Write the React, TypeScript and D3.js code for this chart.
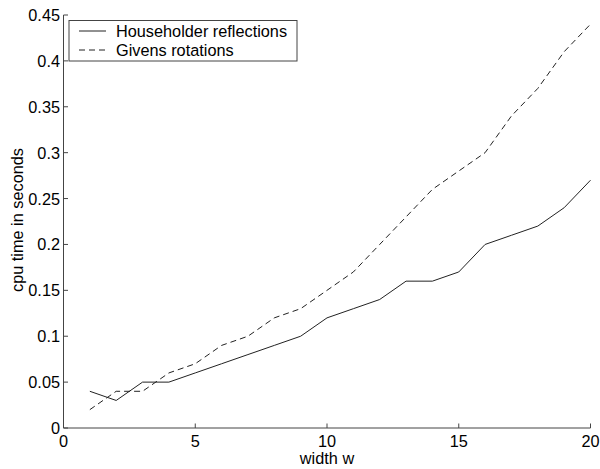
import React from "react";
import * as d3 from "d3";

const widths = [1, 2, 3, 4, 5, 6, 7, 8, 9, 10, 11, 12, 13, 14, 15, 16, 17, 18, 19, 20];
const householder = [0.04, 0.03, 0.05, 0.05, 0.06, 0.07, 0.08, 0.09, 0.10, 0.12, 0.13, 0.14, 0.16, 0.16, 0.17, 0.20, 0.21, 0.22, 0.24, 0.27];
const givens = [0.02, 0.04, 0.04, 0.06, 0.07, 0.09, 0.10, 0.12, 0.13, 0.15, 0.17, 0.20, 0.23, 0.26, 0.28, 0.30, 0.34, 0.37, 0.41, 0.44];
const xTicks = [0, 5, 10, 15, 20];
const yTicks = [0, 0.05, 0.1, 0.15, 0.2, 0.25, 0.3, 0.35, 0.4, 0.45];
const seriesNames = ["Householder reflections", "Givens rotations"];

export default function App() {
  const W = 600, H = 469;
  const left = 63.5, right = 590.5, top = 15, bottom = 428;
  const x = d3.scaleLinear().domain([0, 20]).range([left, right]);
  const y = d3.scaleLinear().domain([0, 0.45]).range([bottom, top]);
  const line = d3.line<number>().x((_, i) => x(widths[i])).y((d) => y(d));
  const font = "Liberation Sans, Arial, Helvetica, sans-serif";
  const fs = 16.3;
  const fmt = (v: number) => (v === 0 ? "0" : String(+v.toFixed(2)));
  return (
    <svg width={W} height={H} style={{ position: "absolute", left: 0, top: 0, background: "#fff" }}>
      <rect x={0} y={0} width={W} height={H} fill="#fff" />
      {/* axes */}
      <line x1={left} y1={bottom} x2={right} y2={bottom} stroke="#444" strokeWidth={1} />
      <line x1={left} y1={bottom} x2={left} y2={top} stroke="#444" strokeWidth={1} />
      {xTicks.map((t) => (
        <g key={"x" + t}>
          <line x1={x(t)} x2={x(t)} y1={bottom} y2={bottom - 4.5} stroke="#444" />
          <text x={x(t)} y={447} textAnchor="middle" fontFamily={font} fontSize={fs} fill="#000">
            {fmt(t)}
          </text>
        </g>
      ))}
      {yTicks.map((t) => (
        <g key={"y" + t}>
          <line x1={left} x2={left + 4.5} y1={y(t)} y2={y(t)} stroke="#444" />
          <text x={60} y={y(t) + 6} textAnchor="end" fontFamily={font} fontSize={fs} fill="#000">
            {fmt(t)}
          </text>
        </g>
      ))}
      <text x={(left + right) / 2} y={464} textAnchor="middle" fontFamily={font} fontSize={fs} fill="#000">
        width w
      </text>
      <text
        transform={`translate(23,220) rotate(-90)`}
        textAnchor="middle"
        fontFamily={font}
        fontSize={fs}
        fill="#000"
      >
        cpu time in seconds
      </text>
      {/* data lines */}
      <path d={line(householder) || ""} fill="none" stroke="#222" strokeWidth={1} />
      <path d={line(givens) || ""} fill="none" stroke="#222" strokeWidth={1} strokeDasharray="6,4" />
      {/* legend */}
      <rect x={69} y={20.5} width={228} height={40.5} fill="#fff" stroke="#444" strokeWidth={1} />
      <line x1={79} x2={106} y1={31} y2={31} stroke="#222" />
      <line x1={79} x2={106} y1={50} y2={50} stroke="#222" strokeDasharray="6,4" />
      <text x={116} y={36.5} fontFamily={font} fontSize={fs} fill="#000">{seriesNames[0]}</text>
      <text x={116} y={55.5} fontFamily={font} fontSize={fs} fill="#000">{seriesNames[1]}</text>
    </svg>
  );
}
